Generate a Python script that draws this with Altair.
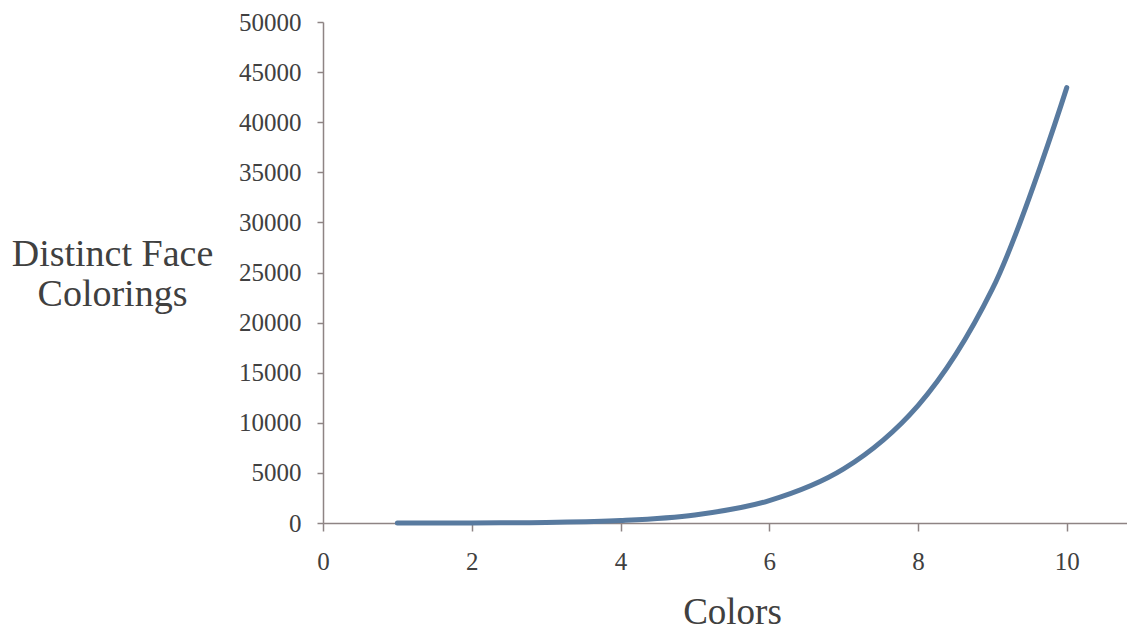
import altair as alt
import pandas as pd

colors = [1, 2, 3, 4, 5, 6, 7, 8, 9, 10]
colorings = [1, 10, 57, 240, 800, 2226, 5390, 11712, 23355, 43450]
x_ticks = [0, 2, 4, 6, 8, 10]
y_ticks = [0, 5000, 10000, 15000, 20000, 25000, 30000, 35000, 40000, 45000, 50000]

df = pd.DataFrame({"Colors": colors, "Colorings": colorings})

FONT = "Liberation Serif"
TXT = "#404040"
AX = "#8e8484"

chart = alt.Chart(df).mark_line(
    color="#587a9f", strokeWidth=5, strokeCap="round", interpolate="catmull-rom"
).encode(
    x=alt.X("Colors:Q", scale=alt.Scale(domain=[0, 10.81], nice=False, zero=False),
            axis=alt.Axis(values=x_ticks, title="Colors", grid=False, format="d",
                          domainColor=AX, tickColor=AX, tickSize=8, tickWidth=1.5, domainWidth=1.5,
                          labelFont=FONT, labelFontSize=25, labelColor=TXT, labelPadding=18,
                          labelFlush=False,
                          titleFont=FONT, titleFontSize=37, titleFontWeight="normal", titleColor=TXT,
                          titleBaseline="alphabetic", titleY=100, titleX=409)),
    y=alt.Y("Colorings:Q", scale=alt.Scale(domain=[0, 50000], nice=False),
            axis=alt.Axis(values=y_ticks, title=["Distinct Face", "Colorings"], grid=False, format="d",
                          domainColor=AX, tickColor=AX, tickSize=6, tickWidth=1.5, domainWidth=1.5,
                          labelFont=FONT, labelFontSize=25, labelColor=TXT, labelPadding=16,
                          labelFlush=False,
                          titleFont=FONT, titleFontSize=38, titleFontWeight="normal", titleColor=TXT,
                          titleAngle=0, titleAlign="center", titleBaseline="alphabetic",
                          titleX=-211, titleY=243, titleLineHeight=40)),
).properties(
    width=804, height=501,
    autosize=alt.AutoSizeParams(type="none"),
    padding={"left": 315, "top": 14, "right": 0, "bottom": 107},
).configure_view(stroke=None)

chart.save("out.html", embed_options={"renderer": "svg", "actions": False})
